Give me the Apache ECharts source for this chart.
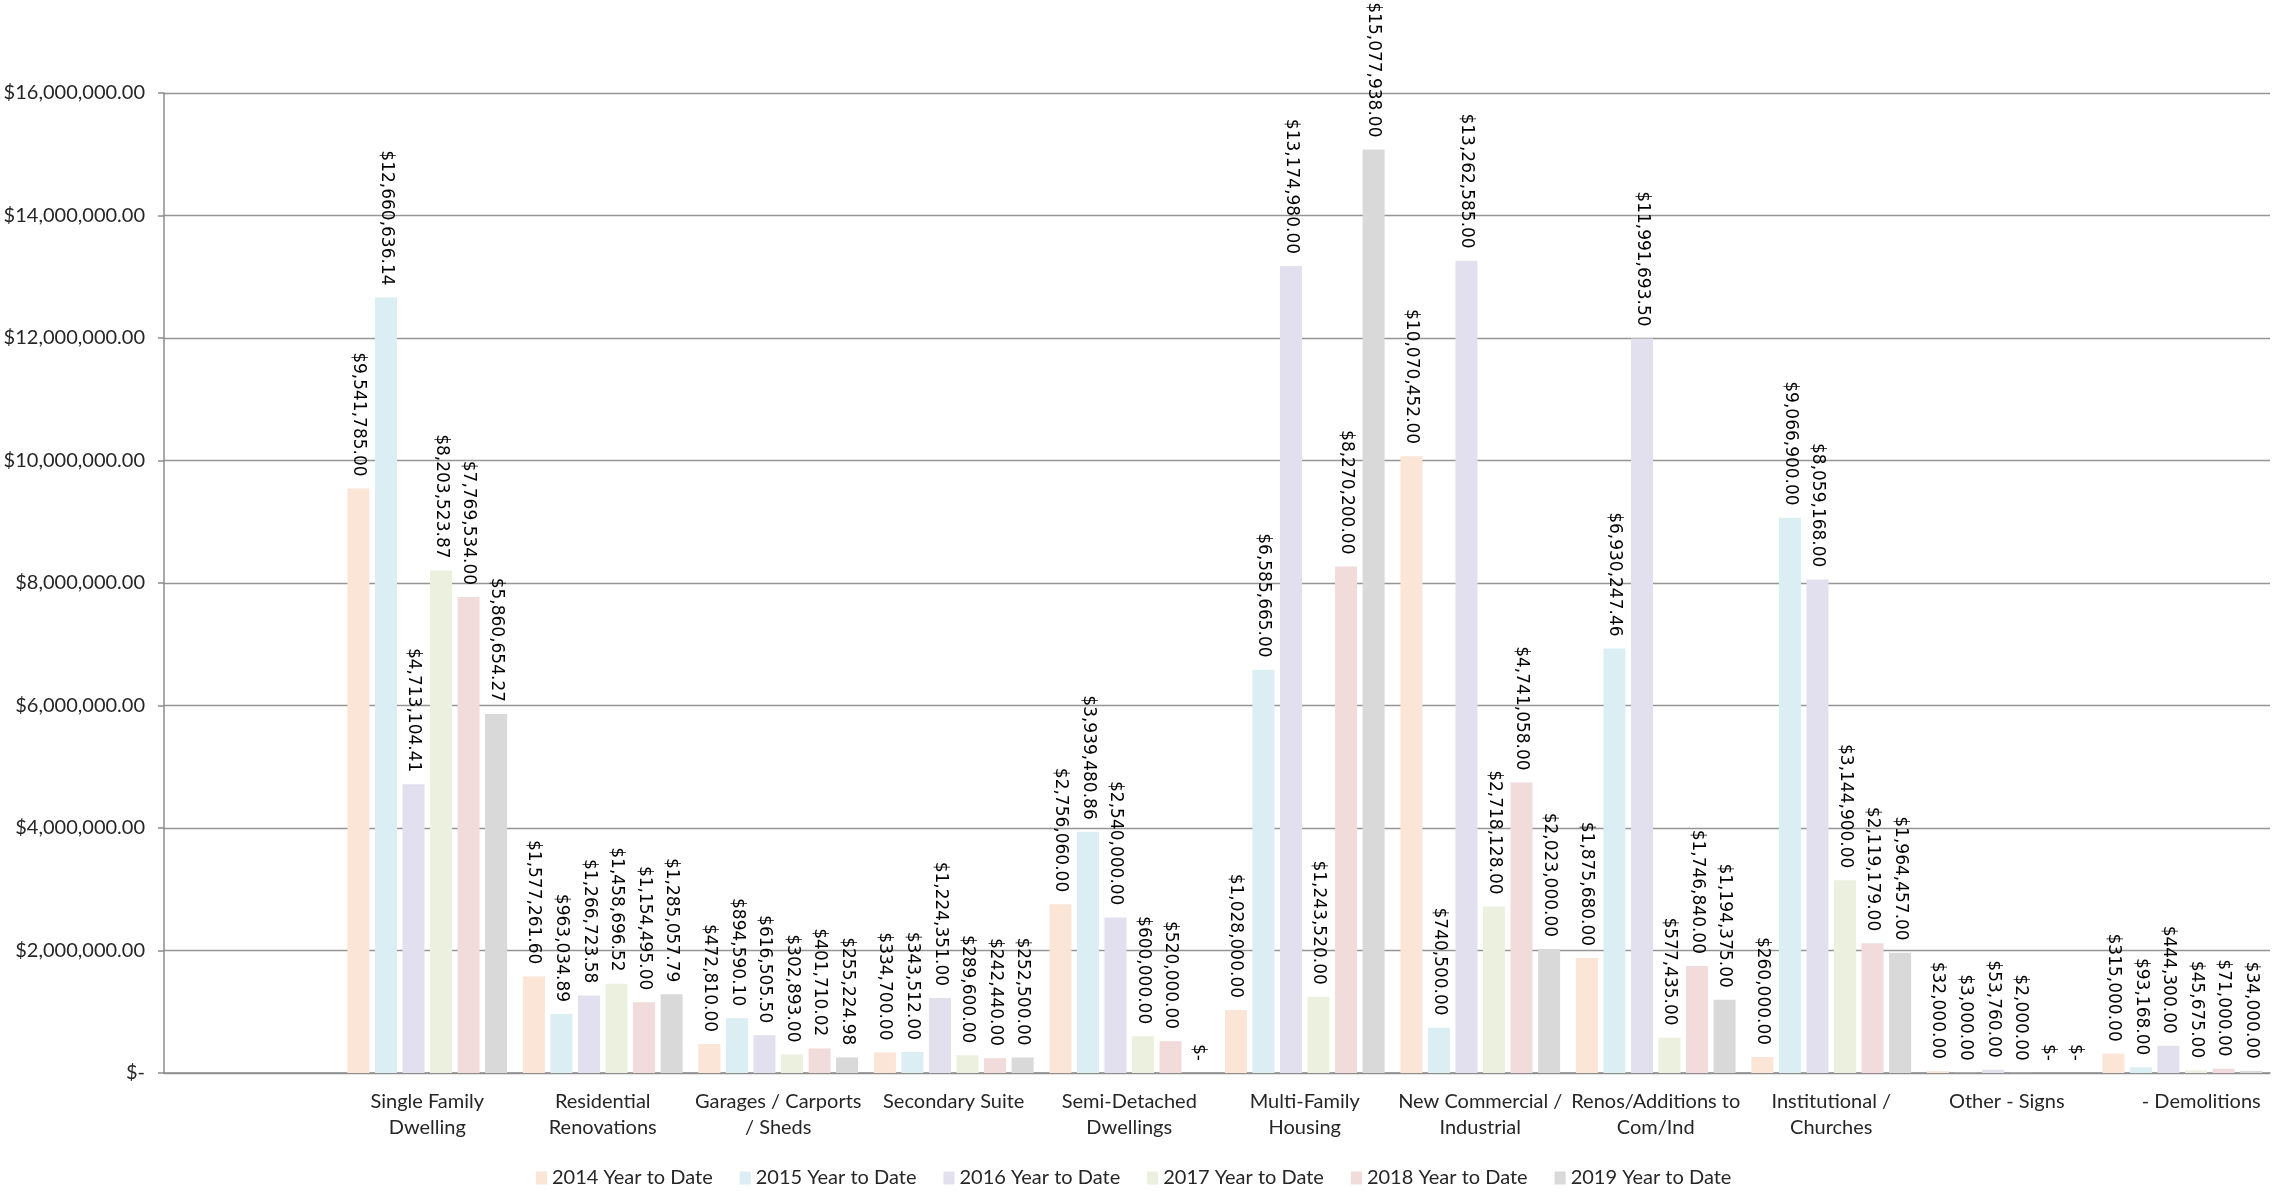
<!DOCTYPE html>
<html>
<head>
<meta charset="utf-8">
<title>Building Permit Values - Year to Date</title>
<script src="https://cdn.jsdelivr.net/npm/echarts@6/dist/echarts.min.js"></script>
<style>
  html, body { margin: 0; padding: 0; background: #fff; }
  #chart { width: 2274px; height: 1191px; }
</style>
</head>
<body>
<div id="chart"></div>
<script>
// Permit categories (first slot is intentionally blank)
const categories = [
  '',
  'Single Family\nDwelling',
  'Residential\nRenovations',
  'Garages / Carports\n/ Sheds',
  'Secondary Suite',
  'Semi-Detached\nDwellings',
  'Multi-Family\nHousing',
  'New Commercial /\nIndustrial',
  'Renos/Additions to\nCom/Ind',
  'Institutional /\nChurches',
  'Other - Signs',
  '- Demolitions'
];

const seriesNames = [
  '2014 Year to Date', '2015 Year to Date', '2016 Year to Date',
  '2017 Year to Date', '2018 Year to Date', '2019 Year to Date'
];

const ytd2014 = [null, 9541785.00, 1577261.60, 472810.00, 334700.00, 2756060.00, 1028000.00, 10070452.00, 1875680.00, 260000.00, 32000.00, 315000.00];
const ytd2015 = [null, 12660636.14, 963034.89, 894590.10, 343512.00, 3939480.86, 6585665.00, 740500.00, 6930247.46, 9066900.00, 3000.00, 93168.00];
const ytd2016 = [null, 4713104.41, 1266723.58, 616505.50, 1224351.00, 2540000.00, 13174980.00, 13262585.00, 11991693.50, 8059168.00, 53760.00, 444300.00];
const ytd2017 = [null, 8203523.87, 1458696.52, 302893.00, 289600.00, 600000.00, 1243520.00, 2718128.00, 577435.00, 3144900.00, 2000.00, 45675.00];
const ytd2018 = [null, 7769534.00, 1154495.00, 401710.02, 242440.00, 520000.00, 8270200.00, 4741058.00, 1746840.00, 2119179.00, 0, 71000.00];
const ytd2019 = [null, 5860654.27, 1285057.79, 255224.98, 252500.00, 0, 15077938.00, 2023000.00, 1194375.00, 1964457.00, 0, 34000.00];

const seriesData = [ytd2014, ytd2015, ytd2016, ytd2017, ytd2018, ytd2019];
const seriesColors = ['#FBE5D6', '#DAEEF3', '#E2DFEE', '#EBF1DE', '#F2DCDB', '#D9D9D9'];

// Accounting-style currency: zero shows as "$-"
function money(v) {
  if (v === 0) return '$-';
  return '$' + Number(v).toLocaleString('en-US', { minimumFractionDigits: 2, maximumFractionDigits: 2 });
}

const uiFont = "'Lato', sans-serif";

// The last category label sits a little right of its slot centre
const axisCategories = categories.map((c, i) =>
  i === categories.length - 1 ? { value: c, textStyle: { padding: [0, 0, 0, 38] } } : c
);

const chart = echarts.init(document.getElementById('chart'), null, { renderer: 'canvas' });

chart.setOption({
  animation: false,
  backgroundColor: '#ffffff',
  grid: { left: 164, right: 4, top: 93, bottom: 118, containLabel: false },
  legend: {
    bottom: -2,
    left: 531,
    itemWidth: 11,
    itemHeight: 13,
    itemGap: 27,
    icon: 'rect',
    textStyle: { fontFamily: uiFont, fontSize: 20, color: '#262626' },
    data: seriesNames
  },
  xAxis: {
    type: 'category',
    data: axisCategories,
    axisLine: { show: true, lineStyle: { color: '#8c8c8c', width: 1.5 } },
    axisTick: { show: false },
    axisLabel: {
      interval: 0,
      margin: 16,
      fontFamily: uiFont,
      fontSize: 20,
      lineHeight: 26,
      color: '#262626'
    }
  },
  yAxis: {
    type: 'value',
    min: 0,
    max: 16000000,
    interval: 2000000,
    axisLine: { show: true, lineStyle: { color: '#8c8c8c', width: 1.5 } },
    axisTick: { show: true, length: 6, lineStyle: { color: '#8c8c8c', width: 1.5 } },
    splitLine: { show: true, lineStyle: { color: '#959595', width: 1.3 } },
    axisLabel: {
      margin: 19,
      fontFamily: uiFont,
      fontSize: 20,
      color: '#262626',
      formatter: money
    }
  },
  series: seriesNames.map((name, i) => ({
    name: name,
    type: 'bar',
    data: seriesData[i],
    barCategoryGap: '9%',
    barGap: '25%',
    itemStyle: { color: seriesColors[i] },
    label: {
      show: true,
      position: 'top',
      distance: 12,
      rotate: -90,
      align: 'right',
      verticalAlign: 'middle',
      fontFamily: "'DejaVu Sans', sans-serif",
      fontSize: 17,
      color: '#000000',
      formatter: p => money(p.value)
    }
  }))
});
</script>
</body>
</html>
